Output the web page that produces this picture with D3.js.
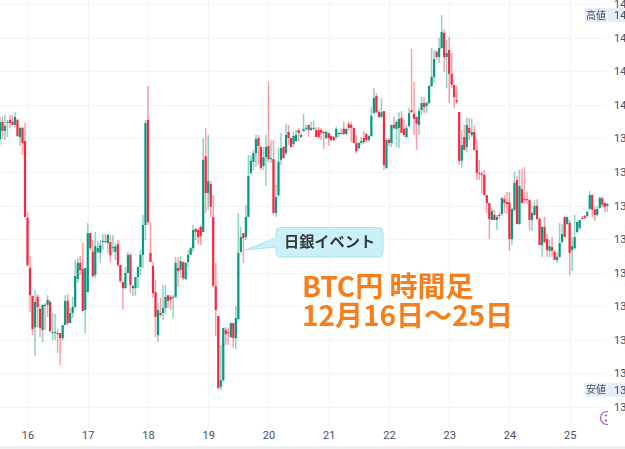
<!DOCTYPE html>
<html>
<head>
<meta charset="utf-8">
<script src="https://d3js.org/d3.v7.min.js"></script>
<style>
    html, body { margin: 0; background: #fff; overflow: hidden; }
    svg { display: block; }
    .axis text { font-family: Roboto, sans-serif; font-size: 11px; fill: #4a4e59; }
    .axis path { display: none; }
</style>
</head>
<body>
<div id="chart"></div>
<script>
// hourly BTC/JPY, thousand yen. first candle = Dec 15 13:00
const opens = [13898,13949,13922,13946,13955,13949,13940,13955,13904,13931,13892,
    13663,13514,13431,13338,13428,13392,13329,13404,13404,13413,
    13320,13320,13320,13320,13305,13344,13416,13350,13380,13398,
    13481,13529,13511,13389,13442,13618,13562,13493,13562,13559,
    13591,13594,13588,13591,13576,13562,13585,13523,13472,13454,
    13499,13553,13454,13454,13487,13517,13553,13642,13955,13559,
    13520,13442,13314,13380,13380,13395,13433,13428,13425,13428,
    13514,13508,13532,13481,13532,13553,13573,13630,13627,13636,
    13621,13847,13737,13764,13666,13460,13371,13160,13180,13329,
    13323,13308,13350,13305,13362,13562,13618,13606,13666,13797,
    13830,13856,13901,13874,13818,13844,13877,13838,13838,13678,
    13731,13836,13874,13856,13919,13901,13883,13892,13924,13904,
    13922,13928,13940,13925,13928,13925,13925,13925,13919,13901,
    13916,13907,13904,13904,13913,13913,13928,13913,13943,13940,
    13931,13886,13871,13886,13901,13913,13895,13907,13975,14026,
    13978,13964,13981,13812,13895,13886,13940,13928,13931,13961,
    13928,13904,13937,13984,13973,13964,13940,13984,14005,13996,
    14005,14056,14083,14157,14142,14169,14214,14142,14163,14092,
    14059,14014,13978,13833,13904,13874,13931,13910,13919,13865,
    13797,13794,13791,13731,13707,13657,13672,13657,13672,13675,
    13719,13710,13710,13600,13687,13776,13645,13749,13719,13719,
    13716,13657,13672,13699,13660,13582,13636,13600,13565,13576,
    13562,13538,13547,13591,13666,13645,13648,13567,13573,13621,
    13633,13663,13669,13669,13690,13731,13687,13672,13693,13722,13707,13699];
const highs = [13964,13964,13970,13955,13970,13970,13978,13958,13934,13934,13946,
    13681,13550,13431,13448,13436,13395,13407,13410,13433,13419,
    13380,13377,13332,13320,13344,13433,13436,13395,13428,13538,
    13544,13550,13588,13514,13648,13618,13597,13621,13594,13597,
    13615,13615,13615,13612,13612,13588,13597,13523,13472,13517,
    13562,13559,13463,13487,13517,13567,13672,13955,14056,13651,
    13532,13478,13410,13425,13463,13463,13433,13433,13433,13547,
    13547,13550,13532,13532,13567,13576,13642,13633,13633,13642,
    13901,13931,13910,13773,13731,13529,13371,13285,13335,13338,
    13335,13350,13350,13401,13678,13636,13618,13702,13850,13850,
    13865,13910,13910,13877,13874,13910,14068,13895,13895,13761,
    13871,13916,13877,13943,13940,13901,13919,13925,13931,13916,
    13973,13940,13940,13949,13952,13934,13934,13931,13922,13922,
    13916,13910,13907,13934,13919,13928,13949,13931,13949,13949,
    13931,13910,13889,13904,13922,13916,13910,13993,14050,14035,
    13984,14020,13981,13901,13901,13940,13964,13955,13978,13981,
    13955,13940,13990,14166,14068,13964,13990,14023,14023,14011,
    14059,14169,14163,14163,14199,14267,14226,14193,14202,14154,
    14059,14056,13978,13925,13940,13961,13961,13958,13937,13898,
    13836,13800,13806,13731,13707,13693,13687,13672,13681,13725,
    13731,13740,13740,13693,13800,13788,13806,13809,13815,13740,
    13719,13681,13716,13719,13666,13639,13666,13615,13597,13606,
    13567,13559,13648,13645,13666,13666,13657,13606,13672,13654,
    13657,13669,13672,13684,13743,13734,13696,13699,13728,13725,13710,13707];
const lows = [13880,13898,13895,13904,13931,13940,13931,13904,13877,13850,13663,
    13517,13383,13314,13252,13338,13308,13294,13329,13368,13323,
    13299,13299,13261,13225,13299,13344,13344,13350,13365,13395,
    13469,13493,13386,13320,13442,13567,13484,13484,13556,13529,
    13567,13588,13559,13532,13559,13538,13517,13469,13392,13451,
    13499,13439,13431,13431,13454,13493,13514,13597,13642,13532,
    13425,13308,13294,13368,13359,13377,13395,13389,13365,13425,
    13457,13484,13478,13478,13517,13553,13562,13597,13585,13582,
    13621,13678,13687,13666,13460,13311,13154,13151,13174,13285,
    13285,13305,13276,13273,13359,13559,13529,13597,13666,13791,
    13806,13815,13821,13806,13806,13758,13830,13827,13672,13666,
    13725,13821,13841,13850,13880,13874,13874,13889,13892,13901,
    13919,13922,13904,13922,13925,13904,13901,13895,13868,13898,
    13877,13892,13892,13898,13904,13910,13910,13910,13925,13889,
    13886,13856,13865,13880,13883,13889,13889,13904,13973,13975,
    13961,13961,13806,13809,13877,13874,13925,13874,13871,13916,
    13904,13901,13934,13975,13910,13865,13910,13970,13975,13975,
    14002,14053,14065,14133,14124,14166,14098,14050,14005,14050,
    13990,14002,13821,13812,13865,13859,13895,13904,13865,13776,
    13776,13737,13731,13678,13600,13657,13657,13627,13660,13669,
    13678,13675,13565,13582,13681,13645,13642,13707,13707,13704,
    13627,13624,13669,13657,13582,13547,13588,13547,13547,13547,
    13538,13529,13544,13588,13606,13642,13493,13505,13570,13618,
    13627,13657,13660,13663,13687,13666,13654,13669,13690,13696,13681,13681];
const closes = [13949,13922,13937,13949,13946,13940,13964,13907,13931,13886,13666,
    13523,13433,13332,13413,13398,13335,13404,13401,13419,13326,
    13323,13323,13317,13305,13344,13416,13350,13380,13398,13490,
    13529,13508,13386,13514,13618,13573,13490,13579,13573,13582,
    13594,13591,13612,13553,13576,13579,13523,13475,13454,13499,
    13553,13463,13460,13487,13517,13553,13642,13946,13651,13532,
    13439,13368,13389,13374,13395,13428,13416,13419,13428,13529,
    13505,13535,13484,13529,13553,13573,13627,13621,13606,13609,
    13836,13737,13773,13696,13460,13389,13157,13180,13335,13317,
    13320,13350,13305,13365,13559,13606,13603,13666,13788,13833,
    13856,13898,13877,13812,13844,13874,13838,13841,13678,13725,
    13830,13871,13841,13910,13901,13874,13907,13910,13916,13910,
    13928,13931,13925,13931,13931,13904,13904,13916,13916,13919,
    13901,13895,13895,13928,13916,13916,13913,13928,13931,13931,
    13886,13862,13886,13892,13889,13895,13907,13967,14020,13978,
    13964,13978,13821,13895,13886,13940,13931,13949,13958,13916,
    13910,13931,13975,13978,13958,13943,13981,14005,13993,14005,
    14056,14083,14136,14142,14169,14217,14142,14154,14092,14059,
    14023,14008,13833,13880,13865,13940,13916,13919,13865,13797,
    13794,13791,13731,13707,13660,13684,13657,13666,13669,13722,
    13707,13704,13600,13690,13767,13645,13758,13707,13716,13716,
    13657,13678,13699,13660,13582,13636,13591,13567,13579,13565,
    13538,13547,13588,13615,13606,13666,13559,13579,13606,13651,
    13657,13660,13663,13681,13731,13687,13672,13690,13722,13702,13696,13705];

const days = [16, 17, 18, 19, 20, 21, 22, 23, 24, 25];
const priceTicks = [14300, 14200, 14100, 14000, 13900, 13800, 13700, 13600, 13500, 13400, 13300, 13200, 13100];
const titleLines = ['BTC円 時間足', '12月16日〜25日'];
const eventLabel = '日銀イベント';
const highLabel = '高値';
const lowLabel = '安値';

const UP = '#089981', DOWN = '#f7273f';
const width = 625, height = 449;

const hour = i => new Date(Date.UTC(2025, 11, 15, 13 + i));
const dayDate = d => new Date(Date.UTC(2025, 11, d));
const yen = v => d3.format(',')(v * 1000);

const x = d3.scaleUtc().domain([hour(0), hour(242)]).range([-0.1, 607.3]);
const y = d3.scaleLinear().domain([13100, 14300]).range([407, 4]);

const svg = d3.select('#chart').append('svg')
    .attr('width', width).attr('height', height)
    .attr('viewBox', [0, 0, width, height]);

// grid
const grid = svg.append('g').attr('stroke', '#f3f4f6');
grid.selectAll('.h').data(priceTicks).join('line')
    .attr('x1', 0).attr('x2', 607)
    .attr('y1', d => Math.round(y(d)) + .5).attr('y2', d => Math.round(y(d)) + .5);
grid.selectAll('.v').data(days).join('line')
    .attr('y1', 0).attr('y2', 428)
    .attr('x1', d => Math.round(x(dayDate(d))) + .5).attr('x2', d => Math.round(x(dayDate(d))) + .5);

// candles
const idx = d3.range(closes.length);
const color = i => closes[i] >= opens[i] ? UP : DOWN;
const candles = svg.append('g').style('filter', 'blur(0.4px)');
candles.selectAll('.wick').data(idx).join('rect')
    .attr('x', i => x(hour(i)) - .75)
    .attr('width', 1.5)
    .attr('y', i => y(highs[i]))
    .attr('height', i => y(lows[i]) - y(highs[i]))
    .attr('fill', color)
    .attr('opacity', .45);
candles.selectAll('.body').data(idx).join('rect')
    .attr('x', i => x(hour(i)) - 1.1)
    .attr('width', 2.2)
    .attr('y', i => y(Math.max(opens[i], closes[i])))
    .attr('height', i => Math.max(1, Math.abs(y(opens[i]) - y(closes[i]))))
    .attr('fill', color);

// axes
svg.append('g').attr('class', 'axis')
    .attr('transform', 'translate(0,428)')
    .call(d3.axisBottom(x).tickValues(days.map(dayDate)).tickSize(0).tickPadding(3)
        .tickFormat(d => d.getUTCDate()));
svg.append('g').attr('class', 'axis')
    .attr('transform', 'translate(614,0)')
    .call(d3.axisRight(y).tickValues(priceTicks).tickSize(0).tickPadding(0).tickFormat(yen));
svg.append('rect').attr('x', 0).attr('y', 446).attr('width', width).attr('height', 3).attr('fill', '#f0f1f3');

// high / low tags on the price axis
function priceTag(label, value) {
    const cy = y(value);
    const g = svg.append('g');
    g.append('rect').attr('x', 585).attr('y', cy - 7).attr('width', 22).attr('height', 14).attr('fill', '#e4eefa');
    g.append('rect').attr('x', 608).attr('y', cy - 7).attr('width', 17).attr('height', 14).attr('fill', '#e4eefa');
    g.append('text').attr('x', 596).attr('y', cy).attr('dy', '.35em').attr('text-anchor', 'middle')
        .attr('font-family', '"Noto Sans CJK JP"').attr('font-size', 10).attr('fill', '#4a4e59').text(label);
    g.append('text').attr('x', 614).attr('y', cy).attr('dy', '.35em')
        .attr('font-family', 'Roboto').attr('font-size', 11).attr('fill', '#4a4e59').text(yen(value));
}
priceTag(highLabel, d3.max(highs));
priceTag(lowLabel, d3.min(lows));

// cut off smiley icon
svg.append('clipPath').attr('id', 'iconClip').append('rect').attr('x', 595).attr('y', 405).attr('width', 13).attr('height', 25);
const icon = svg.append('g').attr('clip-path', 'url(#iconClip)');
icon.append('circle').attr('cx', 607).attr('cy', 418).attr('r', 6.5).attr('fill', 'none').attr('stroke', '#b34fd1').attr('stroke-width', 1.2);
icon.append('circle').attr('cx', 606).attr('cy', 415.5).attr('r', 1).attr('fill', '#8f3ab0');
icon.append('circle').attr('cx', 606).attr('cy', 420.5).attr('r', 1).attr('fill', '#8f3ab0');

// event callout
svg.append('path')
    .attr('d', 'M281,227.5 H378 Q383,227.5 383,232.5 V252 Q383,257 378,257 H281 Q276,257 276,252 V247 L245,250 L276,238 V232.5 Q276,227.5 281,227.5 Z')
    .attr('fill', '#c9f1f7').attr('stroke', '#a4e5f1').attr('stroke-width', 1);
svg.append('text').attr('x', 329.5).attr('y', 241.5).attr('dy', '.36em').attr('text-anchor', 'middle')
    .attr('font-family', '"Noto Sans CJK JP"').attr('font-weight', 700).attr('font-size', 15.2)
    .attr('fill', '#34363b').text(eventLabel);

// title
svg.selectAll('.title').data(titleLines).join('text')
    .attr('x', 302).attr('y', (d, i) => 297 + i * 28.5)
    .attr('font-family', '"Noto Sans CJK JP"').attr('font-weight', 700).attr('font-size', 28)
    .attr('fill', '#f67f1c').text(d => d);
</script>
</body>
</html>
